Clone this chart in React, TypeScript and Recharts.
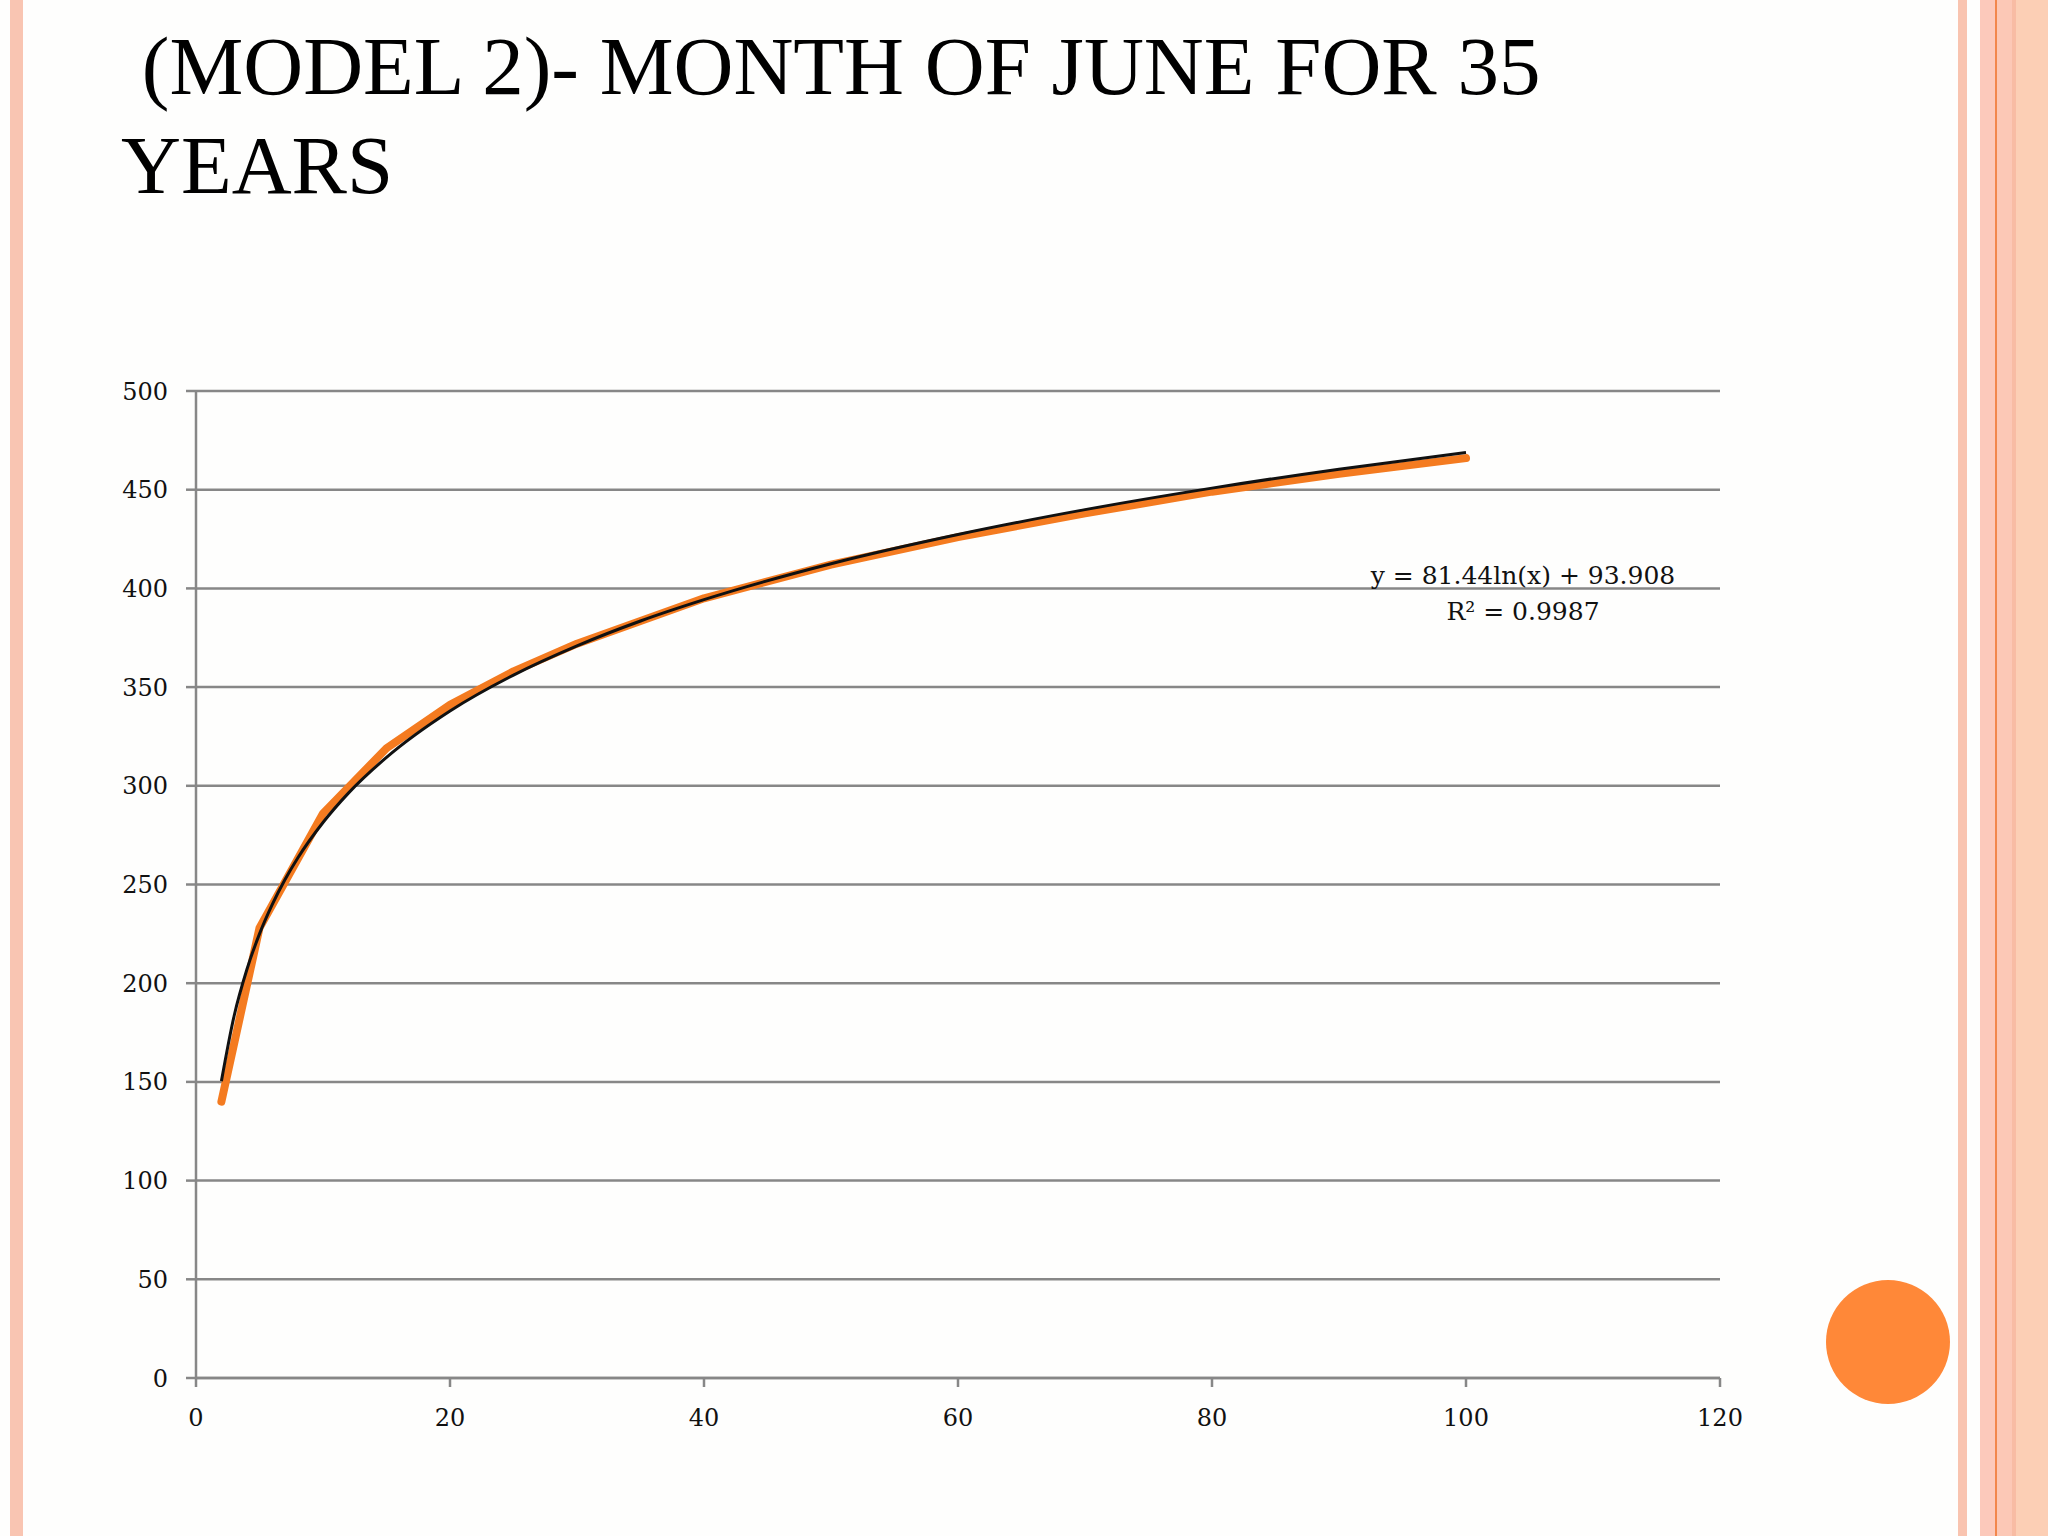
import { LineChart, Line, XAxis, YAxis, CartesianGrid } from 'recharts';

// return period (years) vs. rainfall
const xTicks = [0, 20, 40, 60, 80, 100, 120];
const yTicks = [0, 50, 100, 150, 200, 250, 300, 350, 400, 450, 500];

const returnPeriods = [2, 5, 10, 15, 20, 25, 30, 40, 50, 60, 70, 80, 90, 100];
const rainfall = [140, 228, 286, 319, 341, 358, 372, 395, 412, 426, 438, 449, 458, 466];

// log trendline points: y = 81.44ln(x) + 93.908
const trendX = [2, 3, 4, 5, 6, 7, 8, 10, 12, 15, 20, 25, 30, 35, 40, 50, 60, 70, 80, 90, 100];
const trendY = [
  150.4, 183.4, 206.8, 225.0, 239.8, 252.4, 263.3, 281.4, 296.3, 314.4, 337.9, 356.1, 370.9,
  383.5, 394.3, 412.5, 427.3, 439.9, 450.8, 460.4, 468.9,
];

const titleLines = ['(MODEL 2)- MONTH OF JUNE FOR 35', 'YEARS'];
const equation = ['y = 81.44ln(x) + 93.908', 'R\u00b2 = 0.9987'];

const observed = returnPeriods.map((x, i) => ({ x, y: rainfall[i] }));
const trend = trendX.map((x, i) => ({ x, y: trendY[i] }));

const axisGray = '#878787';
const tickStyle = { fontSize: 24, fill: '#111', fontFamily: 'DejaVu Serif' };

function Stripe({ left, width, color }: { left: number; width: number; color: string }) {
  return (
    <div style={{ position: 'absolute', left, top: 0, width, height: 1536, background: color }} />
  );
}

export default function App() {
  return (
    <div
      style={{
        position: 'absolute',
        left: 0,
        top: 0,
        width: 2048,
        height: 1536,
        background: '#fefefd',
        overflow: 'hidden',
      }}
    >
      {/* slide frame */}
      <Stripe left={10} width={13} color="#f9c5b2" />
      <Stripe left={1958} width={9} color="#f9c4b0" />
      <Stripe left={1980} width={15} color="#fcc9bb" />
      <Stripe left={1995} width={2} color="#f2874c" />
      <Stripe left={1997} width={15} color="#fcc8b6" />
      <Stripe left={2012} width={4} color="#f8bca4" />
      <Stripe left={2016} width={32} color="#fccfb5" />
      <div
        style={{
          position: 'absolute',
          left: 1888 - 62,
          top: 1342 - 62,
          width: 124,
          height: 124,
          borderRadius: '50%',
          background: '#ff8838',
        }}
      />

      <div
        style={{
          position: 'absolute',
          left: 121,
          top: 17,
          fontFamily: '"Liberation Serif", serif',
          fontSize: 83,
          lineHeight: '99px',
          color: '#000',
          whiteSpace: 'pre',
        }}
      >
        <div>{' ' + titleLines[0]}</div>
        <div>{titleLines[1]}</div>
      </div>

      <div style={{ position: 'absolute', left: 100, top: 350 }}>
        <LineChart width={1700} height={1120} margin={{ top: 41, right: 80, bottom: 32, left: 0 }}>
          <CartesianGrid vertical={false} stroke={axisGray} strokeWidth={2.5} />
          <XAxis
            type="number"
            dataKey="x"
            domain={[0, 120]}
            ticks={xTicks}
            height={60}
            stroke={axisGray}
            strokeWidth={2.5}
            tickSize={9}
            tickMargin={22}
            tick={tickStyle}
          />
          <YAxis
            type="number"
            dataKey="y"
            domain={[0, 500]}
            ticks={yTicks}
            width={96}
            stroke={axisGray}
            strokeWidth={2.5}
            tickSize={10}
            tickMargin={18}
            tick={tickStyle}
          />
          <Line
            data={observed}
            dataKey="y"
            type="linear"
            stroke="#f47b20"
            strokeWidth={8}
            strokeLinecap="round"
            strokeLinejoin="round"
            dot={false}
            isAnimationActive={false}
          />
          <Line
            data={trend}
            dataKey="y"
            type="monotone"
            stroke="#111111"
            strokeWidth={3}
            dot={false}
            isAnimationActive={false}
          />
        </LineChart>
      </div>

      <div
        style={{
          position: 'absolute',
          left: 1323,
          top: 558,
          width: 400,
          textAlign: 'center',
          fontFamily: '"DejaVu Serif", serif',
          fontSize: 25,
          lineHeight: '36px',
          color: '#111',
        }}
      >
        <div>{equation[0]}</div>
        <div>{equation[1]}</div>
      </div>
    </div>
  );
}
